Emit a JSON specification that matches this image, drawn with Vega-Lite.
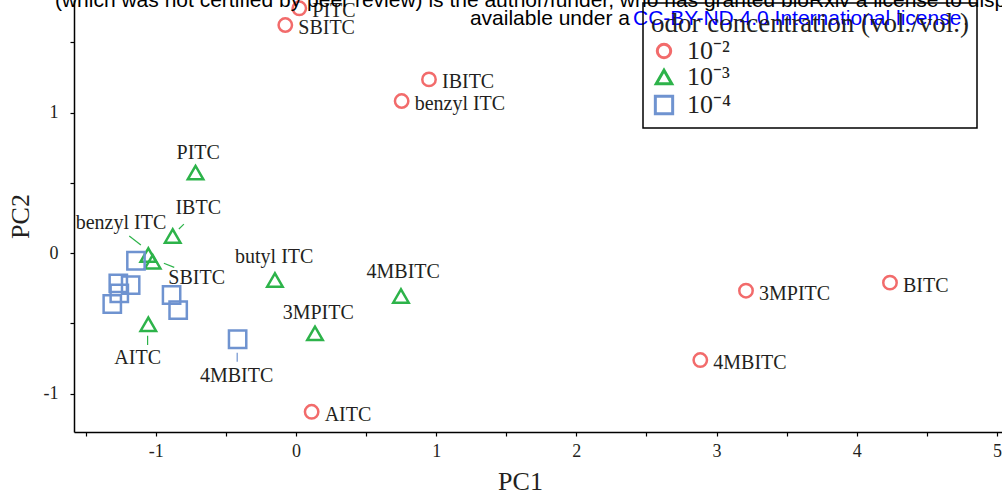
{
  "$schema": "https://vega.github.io/schema/vega-lite/v6.json",
  "width": 928,
  "height": 432,
  "autosize": "none",
  "padding": {"left": 74, "top": 0, "right": 0, "bottom": 65},
  "background": "white",
  "config": {
    "view": {"stroke": null},
    "font": "Liberation Serif",
    "axis": {
      "domainColor": "black", "domainWidth": 1.5, "tickColor": "black", "tickWidth": 1.2, "tickSize": 4,
      "labelFont": "Liberation Serif", "labelFontSize": 18, "labelColor": "#231F20",
      "titleFont": "Liberation Serif", "titleFontSize": 26, "titleFontWeight": "normal", "titleColor": "#231F20",
      "grid": false, "labelOverlap": false
    },
    "legend": {
      "orient": "none", "legendX": 569, "legendY": 3, "padding": 8,
      "strokeColor": "black", "strokeWidth": 1.5,
      "titleFont": "Liberation Serif", "titleFontSize": 27, "titleFontWeight": "normal", "titleColor": "#231F20", "titlePadding": 0, "titleLimit": 400,
      "labelFont": "Liberation Serif", "labelFontSize": 26, "labelColor": "#231F20", "labelOffset": 10,
      "symbolStrokeWidth": 3, "rowPadding": 0
    }
  },
  "datasets": {
    "pca": [
      {"compound": "PITC", "conc": "10⁻²", "PC1": 0.024, "PC2": 1.742},
      {"compound": "SBITC", "conc": "10⁻²", "PC1": -0.076, "PC2": 1.623},
      {"compound": "IBITC", "conc": "10⁻²", "PC1": 0.949, "PC2": 1.236},
      {"compound": "benzyl ITC", "conc": "10⁻²", "PC1": 0.754, "PC2": 1.082},
      {"compound": "3MPITC", "conc": "10⁻²", "PC1": 3.21, "PC2": -0.268},
      {"compound": "BITC", "conc": "10⁻²", "PC1": 4.237, "PC2": -0.211},
      {"compound": "4MBITC", "conc": "10⁻²", "PC1": 2.884, "PC2": -0.762},
      {"compound": "AITC", "conc": "10⁻²", "PC1": 0.112, "PC2": -1.13},
      {"compound": "PITC", "conc": "10⁻³", "PC1": -0.716, "PC2": 0.572},
      {"compound": "IBTC", "conc": "10⁻³", "PC1": -0.879, "PC2": 0.121},
      {"compound": "benzyl ITC", "conc": "10⁻³", "PC1": -1.053, "PC2": -0.014},
      {"compound": "SBITC", "conc": "10⁻³", "PC1": -1.022, "PC2": -0.062},
      {"compound": "butyl ITC", "conc": "10⁻³", "PC1": -0.15, "PC2": -0.192},
      {"compound": "3MPITC", "conc": "10⁻³", "PC1": 0.136, "PC2": -0.572},
      {"compound": "AITC", "conc": "10⁻³", "PC1": -1.053, "PC2": -0.507},
      {"compound": "4MBITC", "conc": "10⁻³", "PC1": 0.749, "PC2": -0.306},
      {"compound": "benzyl ITC", "conc": "10⁻⁴", "PC1": -1.141, "PC2": -0.055},
      {"compound": "PITC", "conc": "10⁻⁴", "PC1": -1.267, "PC2": -0.216},
      {"compound": "SBITC", "conc": "10⁻⁴", "PC1": -1.179, "PC2": -0.228},
      {"compound": "AITC", "conc": "10⁻⁴", "PC1": -1.26, "PC2": -0.287},
      {"compound": "IBITC", "conc": "10⁻⁴", "PC1": -1.31, "PC2": -0.363},
      {"compound": "butyl ITC", "conc": "10⁻⁴", "PC1": -0.887, "PC2": -0.299},
      {"compound": "3MPITC", "conc": "10⁻⁴", "PC1": -0.84, "PC2": -0.406},
      {"compound": "4MBITC", "conc": "10⁻⁴", "PC1": -0.416, "PC2": -0.614}
    ],
    "labels": [
      {"text": "PITC", "PC1": -0.697, "PC2": 0.714},
      {"text": "IBTC", "PC1": -0.697, "PC2": 0.318},
      {"text": "benzyl ITC", "PC1": -1.248, "PC2": 0.216},
      {"text": "SBITC", "PC1": -0.708, "PC2": -0.18},
      {"text": "butyl ITC", "PC1": -0.155, "PC2": -0.026},
      {"text": "3MPITC", "PC1": 0.159, "PC2": -0.425},
      {"text": "AITC", "PC1": -1.129, "PC2": -0.745},
      {"text": "4MBITC", "PC1": 0.765, "PC2": -0.133},
      {"text": "4MBITC", "PC1": -0.423, "PC2": -0.875}
    ],
    "arrows": [
      {"group": "10⁻³", "PC1": -1.189, "PC2": 0.121, "PC1_end": -1.106, "PC2_end": 0.057},
      {"group": "10⁻³", "PC1": -0.799, "PC2": 0.206, "PC1_end": -0.835, "PC2_end": 0.171},
      {"group": "10⁻³", "PC1": -0.868, "PC2": -0.102, "PC1_end": -0.942, "PC2_end": -0.073},
      {"group": "10⁻³", "PC1": -1.058, "PC2": -0.655, "PC1_end": -1.058, "PC2_end": -0.589},
      {"group": "10⁻⁴", "PC1": -0.419, "PC2": -0.774, "PC1_end": -0.419, "PC2_end": -0.71}
    ],
    "notice": [
      {"part": "black", "text": "(which was not certified by peer review) is the author/funder, who has granted bioRxiv a license to display the preprint in perpetuity. It is made", "PC1": -1.719, "PC2": 1.751},
      {"part": "black", "text": "available under a", "PC1": 1.241, "PC2": 1.623},
      {"part": "blue", "text": "CC-BY-ND 4.0 International license", "PC1": 2.404, "PC2": 1.623},
      {"part": "black", "text": ".", "PC1": 4.757, "PC2": 1.623}
    ]
  },
  "layer": [
    {
      "data": {"name": "pca"},
      "mark": {"type": "point", "filled": false, "strokeWidth": 2.5, "opacity": 1},
      "encoding": {
        "x": {"field": "PC1", "type": "quantitative", "title": "PC1",
          "scale": {"domain": [-1.583, 5.036], "nice": false, "zero": false},
          "axis": {"values": [-1.5, -1, -0.5, 0, 0.5, 1, 1.5, 2, 2.5, 3, 3.5, 4, 4.5, 5],
            "labelExpr": "datum.value % 1 === 0 ? toString(datum.value) : ''",
            "labelPadding": 6, "titlePadding": 8, "labelFlush": false, "titleX": 446, "titleAnchor": "start", "titleAlign": "center"}},
        "y": {"field": "PC2", "type": "quantitative", "title": "PC2",
          "scale": {"domain": [-1.274, 1.801], "nice": false, "zero": false},
          "axis": {"values": [-1, -0.5, 0, 0.5, 1, 1.5],
            "labelExpr": "datum.value % 1 === 0 ? toString(datum.value) : ''",
            "labelPadding": 12, "titlePadding": 10, "labelFlush": false}},
        "shape": {"field": "conc", "type": "nominal", "title": "odor concentration (vol./vol.)",
          "scale": {"domain": ["10⁻²", "10⁻³", "10⁻⁴"], "range": ["circle", "triangle-up", "square"]}},
        "color": {"field": "conc", "type": "nominal", "title": "odor concentration (vol./vol.)",
          "scale": {"domain": ["10⁻²", "10⁻³", "10⁻⁴"], "range": ["#F26B6B", "#2DB34A", "#6F93D0"]}},
        "size": {"field": "conc", "type": "nominal", "title": "odor concentration (vol./vol.)",
          "scale": {"domain": ["10⁻²", "10⁻³", "10⁻⁴"], "range": [180, 300, 190]}}
      }
    },
    {
      "data": {"name": "pca"},
      "transform": [{"filter": "datum.conc === '10⁻²'"}],
      "mark": {"type": "text", "align": "left", "baseline": "middle", "dx": 13, "dy": 3, "font": "Liberation Serif", "fontSize": 20, "color": "#231F20"},
      "encoding": {
        "x": {"field": "PC1", "type": "quantitative", "title": "PC1"},
        "y": {"field": "PC2", "type": "quantitative", "title": "PC2"},
        "text": {"field": "compound"}
      }
    },
    {
      "data": {"name": "labels"},
      "mark": {"type": "text", "align": "center", "baseline": "middle", "font": "Liberation Serif", "fontSize": 20, "color": "#231F20"},
      "encoding": {
        "x": {"field": "PC1", "type": "quantitative", "title": "PC1"},
        "y": {"field": "PC2", "type": "quantitative", "title": "PC2"},
        "text": {"field": "text"}
      }
    },
    {
      "data": {"name": "arrows"},
      "transform": [{"filter": "datum.group === '10⁻³'"}],
      "mark": {"type": "rule", "color": "#2DB34A", "strokeWidth": 1.2},
      "encoding": {
        "x": {"field": "PC1", "type": "quantitative", "title": "PC1"},
        "y": {"field": "PC2", "type": "quantitative", "title": "PC2"},
        "x2": {"field": "PC1_end"},
        "y2": {"field": "PC2_end"}
      }
    },
    {
      "data": {"name": "arrows"},
      "transform": [{"filter": "datum.group === '10⁻⁴'"}],
      "mark": {"type": "rule", "color": "#6F93D0", "strokeWidth": 1.2},
      "encoding": {
        "x": {"field": "PC1", "type": "quantitative", "title": "PC1"},
        "y": {"field": "PC2", "type": "quantitative", "title": "PC2"},
        "x2": {"field": "PC1_end"},
        "y2": {"field": "PC2_end"}
      }
    },
    {
      "data": {"name": "notice"},
      "transform": [{"filter": "datum.part === 'black'"}],
      "mark": {"type": "text", "align": "left", "baseline": "alphabetic", "font": "Liberation Sans", "fontSize": 21, "color": "black"},
      "encoding": {
        "x": {"field": "PC1", "type": "quantitative", "title": "PC1"},
        "y": {"field": "PC2", "type": "quantitative", "title": "PC2"},
        "text": {"field": "text"}
      }
    },
    {
      "data": {"name": "notice"},
      "transform": [{"filter": "datum.part === 'blue'"}],
      "mark": {"type": "text", "align": "left", "baseline": "alphabetic", "font": "Liberation Sans", "fontSize": 21, "color": "#0000FF"},
      "encoding": {
        "x": {"field": "PC1", "type": "quantitative", "title": "PC1"},
        "y": {"field": "PC2", "type": "quantitative", "title": "PC2"},
        "text": {"field": "text"}
      }
    }
  ]
}
